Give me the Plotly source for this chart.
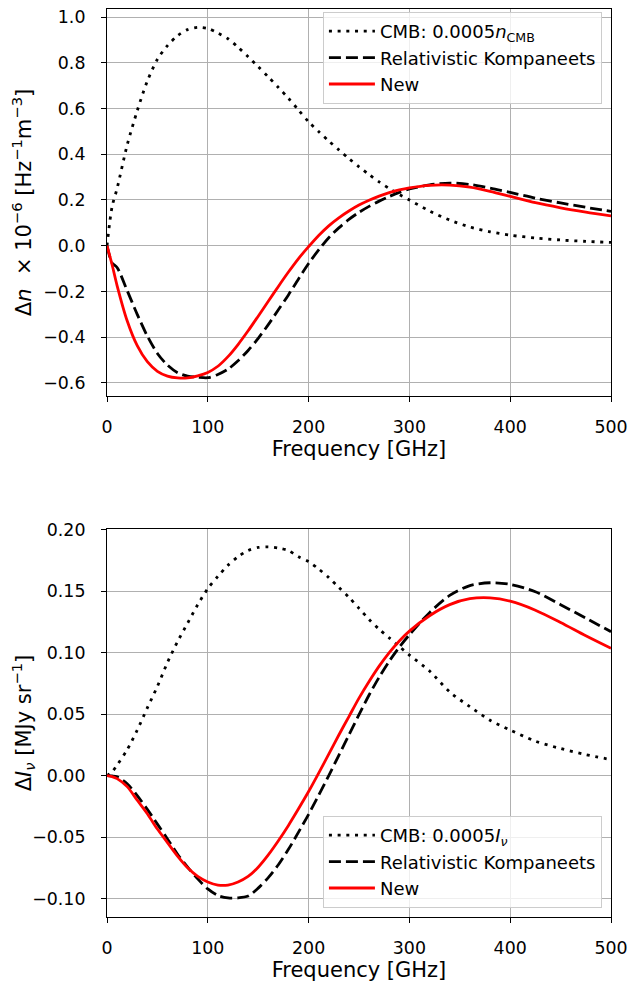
import plotly.graph_objects as go

freq = [0, 5, 10, 20, 30, 40, 50, 60, 70, 80, 90, 100, 110, 120, 130, 140, 150, 160,
        170, 180, 190, 200, 210, 220, 230, 240, 250, 260, 270, 280, 290, 300, 320,
        340, 360, 380, 400, 425, 450, 475, 500]

# Top panel: Delta n x 1e-6 [Hz^-1 m^-3]
dn_cmb = [0.0, 0.17, 0.25, 0.44, 0.59, 0.72, 0.815, 0.875, 0.918, 0.945, 0.955, 0.95,
          0.93, 0.905, 0.868, 0.826, 0.783, 0.738, 0.692, 0.645, 0.593, 0.542, 0.499,
          0.458, 0.419, 0.381, 0.345, 0.311, 0.279, 0.25, 0.224, 0.2, 0.152, 0.112,
          0.082, 0.061, 0.046, 0.034, 0.025, 0.019, 0.0145]
dn_rk = [0.0, -0.075, -0.095, -0.196, -0.30, -0.395, -0.471, -0.522, -0.555, -0.57,
         -0.575, -0.577, -0.563, -0.54, -0.503, -0.458, -0.405, -0.345, -0.28,
         -0.215, -0.145, -0.078, -0.018, 0.035, 0.078, 0.115, 0.146, 0.172, 0.195,
         0.215, 0.233, 0.248, 0.266, 0.274, 0.268, 0.252, 0.233, 0.208, 0.187, 0.168,
         0.15]
dn_new = [0.0, -0.082, -0.174, -0.328, -0.437, -0.507, -0.549, -0.57, -0.578, -0.578,
          -0.569, -0.554, -0.527, -0.485, -0.432, -0.372, -0.308, -0.243, -0.178,
          -0.115, -0.056, -0.004, 0.045, 0.087, 0.122, 0.152, 0.178, 0.199, 0.217,
          0.232, 0.244, 0.253, 0.264, 0.265, 0.256, 0.238, 0.216, 0.188, 0.166,
          0.147, 0.13]

# Bottom panel: Delta I_nu [MJy sr^-1]
di_cmb = [0.0, 0.003, 0.0085, 0.021, 0.037, 0.055, 0.0725, 0.092, 0.109, 0.124, 0.139,
          0.152, 0.162, 0.171, 0.178, 0.183, 0.1855, 0.186, 0.185, 0.183, 0.178,
          0.174, 0.168, 0.161, 0.153, 0.145, 0.136, 0.127, 0.119, 0.112, 0.105,
          0.098, 0.085, 0.068, 0.056, 0.045, 0.037, 0.028, 0.022, 0.017, 0.013]
di_rk = [0.0, -0.0003, -0.001, -0.0067, -0.0163, -0.0275, -0.0395, -0.0515, -0.064,
         -0.0745, -0.084, -0.0922, -0.0975, -0.0995, -0.0995, -0.098, -0.0915,
         -0.083, -0.0725, -0.060, -0.046, -0.0315, -0.016, 0.0, 0.0165, 0.033, 0.0495,
         0.0655, 0.08, 0.093, 0.1045, 0.1145, 0.1325, 0.1465, 0.1545, 0.1568, 0.1555,
         0.1495, 0.139, 0.128, 0.117]
di_new = [0.0, -0.0008, -0.0025, -0.009, -0.02, -0.031, -0.0435, -0.0545, -0.0655,
          -0.075, -0.082, -0.0865, -0.089, -0.089, -0.0865, -0.082, -0.0745, -0.0645,
          -0.053, -0.0405, -0.027, -0.013, 0.002, 0.0175, 0.033, 0.048, 0.063, 0.0765,
          0.089, 0.1, 0.1095, 0.1175, 0.130, 0.139, 0.1438, 0.1445, 0.1418, 0.1345,
          0.1245, 0.1137, 0.1035]

top_ticks = [-0.6, -0.4, -0.2, 0.0, 0.2, 0.4, 0.6, 0.8, 1.0]
bot_ticks = [-0.10, -0.05, 0.00, 0.05, 0.10, 0.15, 0.20]
x_ticks = [0, 100, 200, 300, 400, 500]

FONT = "DejaVu Sans"
DOT = "3px,5.7px"
DASH = "12px,5px"
LW = 2.8

fig = go.Figure()

def add_set(x, cmb, rk, new, cmb_name, xa, ya, leg):
    fig.add_trace(go.Scatter(x=x, y=cmb, mode="lines", name=cmb_name,
                             line=dict(color="black", width=LW, dash=DOT, shape="spline", smoothing=0.8),
                             xaxis=xa, yaxis=ya, legend=leg))
    fig.add_trace(go.Scatter(x=x, y=rk, mode="lines", name="Relativistic Kompaneets",
                             line=dict(color="black", width=LW, dash=DASH, shape="spline", smoothing=0.8),
                             xaxis=xa, yaxis=ya, legend=leg))
    fig.add_trace(go.Scatter(x=x, y=new, mode="lines", name="New",
                             line=dict(color="red", width=LW, shape="spline", smoothing=0.8),
                             xaxis=xa, yaxis=ya, legend=leg))

add_set(freq, dn_cmb, dn_rk, dn_new, "CMB: 0.0005<i>n</i><sub>CMB</sub>", "x", "y", "legend")
add_set(freq, di_cmb, di_rk, di_new, "CMB: 0.0005<i>I</i><sub><i>ν</i></sub>", "x2", "y2", "legend2")

axis_common = dict(showline=True, linecolor="black", linewidth=1.1, mirror=True,
                   showgrid=True, gridcolor="#b0b0b0", gridwidth=0.8, zeroline=False,
                   ticks="outside", ticklen=5, tickwidth=1.1, tickcolor="black",
                   ticklabeloverflow="allow",
                   tickfont=dict(family=FONT, size=17.4, color="black"))
xcommon = dict(ticklabelstandoff=10, **axis_common)
ycommon = dict(ticklabelstandoff=12, **axis_common)

legend_common = dict(bgcolor="rgba(255,255,255,0.8)", bordercolor="#cccccc", borderwidth=1,
                     font=dict(family=FONT, size=18, color="black"),
                     xanchor="right", x=0.982, itemwidth=46, tracegroupgap=0)

TFONT = dict(family=FONT, size=21, color="black")

# the page body adds an 8px offset, so the figure is 8px smaller than the window
fig.update_layout(
    width=631, height=975,
    margin=dict(l=99, r=28, t=1, b=66, autoexpand=False),
    paper_bgcolor="white", plot_bgcolor="white",
    font=dict(family=FONT, color="black"),
    xaxis=dict(domain=[0, 1], range=[0, 500], tickvals=x_ticks, anchor="y",
               title=dict(text="Frequency [GHz]", font=TFONT, standoff=4),
               **xcommon),
    yaxis=dict(domain=[0.5738, 1.0], range=[-0.657, 1.035], tickvals=top_ticks,
               tickformat=".1f", anchor="x",
               title=dict(text="Δ<i>n</i>  × 10<sup>−6</sup> [Hz<sup>−1</sup>m<sup>−3</sup>]",
                          font=TFONT, standoff=6),
               **ycommon),
    xaxis2=dict(domain=[0, 1], range=[0, 500], tickvals=x_ticks, anchor="y2",
                title=dict(text="Frequency [GHz]", font=TFONT, standoff=4),
                **xcommon),
    yaxis2=dict(domain=[0, 0.4273], range=[-0.115, 0.2005], tickvals=bot_ticks,
                tickformat=".2f", anchor="x2",
                title=dict(text="Δ<i>I</i><sub><i>ν</i></sub> [MJy sr<sup>−1</sup>]",
                           font=TFONT, standoff=12),
                **ycommon),
    legend=dict(yanchor="top", y=0.9967, **legend_common),
    legend2=dict(yanchor="bottom", y=0.0099, **legend_common),
)

fig.write_html("out.html")
